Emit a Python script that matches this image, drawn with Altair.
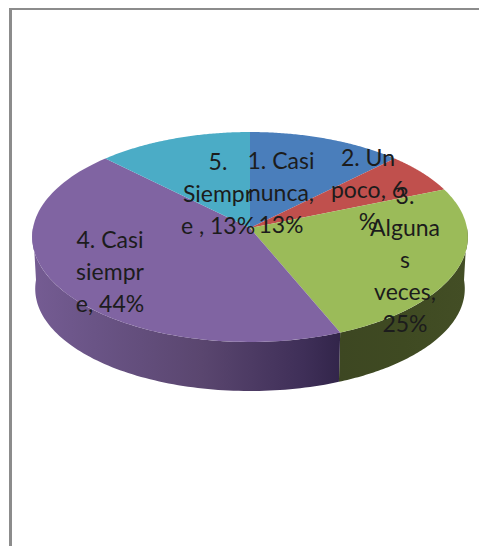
import numpy as np
import pandas as pd
import altair as alt

categories = ["1. Casi nunca", "2. Un poco", "3. Algunas veces", "4. Casi siempre", "5. Siempre"]
counts = [2, 1, 4, 7, 2]
percent_labels = [13, 6, 25, 44, 13]
top_colors = ["#4a7ebb", "#c0504d", "#9bbb59", "#8064a2", "#4bacc6"]
label_lines = [
    ["1. Casi", "nunca,", "13%"],
    ["2.  Un", "poco, 6", "%"],
    ["3.", "Alguna", "s", "veces,", "25%"],
    ["4. Casi", "siempr", "e, 44%"],
    ["5.   ", "Siempr", "e , 13%"],
]
label_x = [281, 368, 405, 110, 218]
label_y = [162, 159, 197, 241, 163]

W, H = 471, 538
X = alt.X("x:Q", axis=None, scale=alt.Scale(domain=[8, 8 + W], nice=False, zero=False))
Y = alt.Y("y:Q", axis=None, scale=alt.Scale(domain=[8 + H, 8], nice=False, zero=False))
K = 0.0857


def rim(a, b, cx, cy, rx, ry):
    t = np.radians(np.linspace(a, b, 90))
    u, v = np.sin(t), -np.cos(t)
    s = 1 / (1 - K * v)
    return cx + rx * u * s, cy + ry * v * s


def poly(xs, ys, fill):
    df = pd.DataFrame({"x": xs, "y": ys, "i": np.arange(len(xs))})
    return alt.Chart(df).mark_line(fill=fill, strokeWidth=0, interpolate="linear-closed", strokeOpacity=0).encode(
        x=X, y=Y, order="i:Q"
    )


top = (250, 228, 217, 104.2)
bot = (250, 280, 214, 101.5)
edges = np.cumsum([0] + counts) / sum(counts) * 360


def side(a, b, fill):
    x1, y1 = rim(a, b, *top)
    x2, y2 = rim(b, a, *bot)
    return poly(np.r_[x1, x2], np.r_[y1, y2], fill)


def grad(stops):
    return alt.Gradient(
        gradient="linear", x1=0, x2=1, y1=0, y2=0,
        stops=[alt.GradientStop(offset=o, color=c) for o, c in stops],
    )


layers = [
    side(90, edges[3], grad([(0, "#3d4722"), (0.5, "#3f4a22"), (1, "#434e25")])),
    side(edges[3], 270, grad([(0, "#755c93"), (0.2, "#6a5486"), (0.55, "#5a466f"), (0.88, "#3f2f58"), (1, "#32254a")])),
]
for i, c in enumerate(top_colors):
    xs, ys = rim(edges[i], edges[i + 1], *top)
    layers.append(poly(np.r_[top[0], xs], np.r_[top[1], ys], c))

frame_color = "#8c8c8c"
frame_h = alt.Chart(pd.DataFrame({"x": [9], "x2": [479], "y": [9]})).mark_rule(color=frame_color, strokeWidth=2).encode(x=X, x2="x2:Q", y=Y)
frame_v = alt.Chart(pd.DataFrame({"x": [10.5], "y": [8], "y2": [546]})).mark_rule(color=frame_color, strokeWidth=3).encode(x=X, y=Y, y2="y2:Q")

labels = alt.Chart(pd.DataFrame({
    "x": label_x,
    "y": label_y,
    "text": ["\n".join(l) for l in label_lines],
})).mark_text(
    font="Lato", fontSize=23, lineHeight=32, lineBreak="\n", align="center", baseline="middle", color="#1c1c1c"
).encode(x=X, y=Y, text="text:N")

chart = alt.layer(*layers, frame_h, frame_v, labels).properties(
    width=W, height=H, padding=0, autosize=alt.AutoSizeParams(type="none"), background="white"
).configure_view(stroke=None)

chart.save("out.html", embed_options={"renderer": "svg", "actions": False})
